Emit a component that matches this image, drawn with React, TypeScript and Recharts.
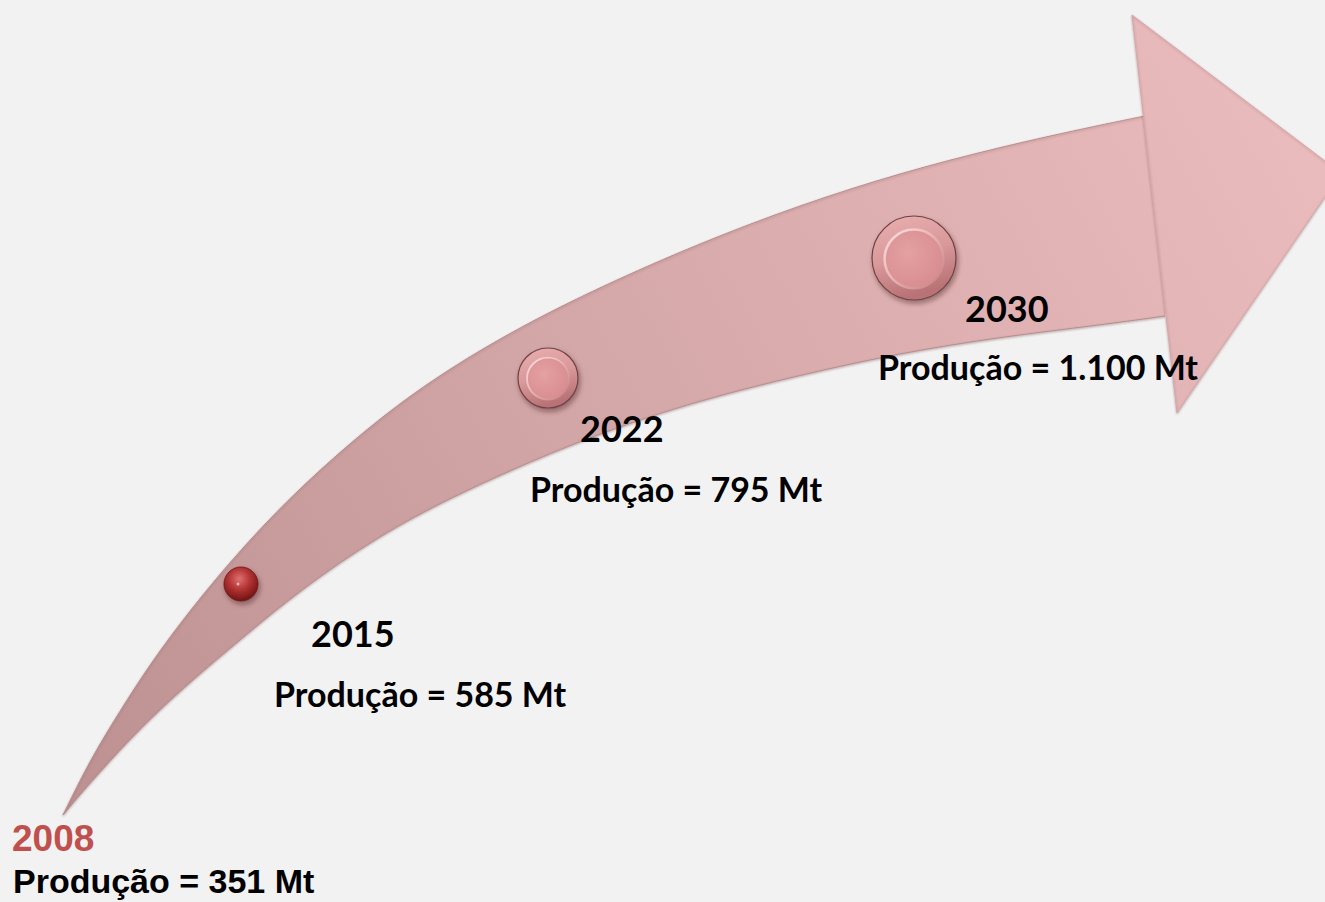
import { ComposedChart, Area, Scatter, XAxis, YAxis } from 'recharts';

// timeline points
const years = ['2008', '2015', '2022', '2030'];
const production = [351, 585, 795, 1100];
const markerX = [63, 241, 548, 914];
const markerY = [813, 584, 378, 258];
const markerSize = [0, 17, 30, 42];

// arrow body (curved band) and head
const arrowX = [63, 90, 120, 150, 190, 240, 300, 380, 450, 520, 600, 700, 800, 900, 1000, 1100, 1165];
const arrowTop = [815, 760, 711, 664, 610, 550, 487, 417, 368, 327, 287, 243, 205, 173, 147, 125, 112];
const arrowBottom = [815, 783, 750, 719, 682, 640, 590, 535, 498, 466, 433, 400, 375, 353, 337, 325, 316];
const headX = [1132, 1177, 1325, 1341];
const headTop = [15, 49, 161, 173];
const headBottom = [15, 413, 197, 173];

// label placement relative to each marker (start anchored)
const yearOffset = [[-51, 38], [70, 63], [32, 64], [51, 64]];
const prodOffset = [[-50, 80], [33, 123], [-18, 124], [-36, 122]];

const W = 1325;
const H = 902;

const bodyData = arrowX.map((x, i) => ({ x, y: [arrowTop[i], arrowBottom[i]] }));
const headData = headX.map((x, i) => ({ x, y: [headTop[i], headBottom[i]] }));
const points = years.map((year, i) => ({ x: markerX[i], y: markerY[i], r: markerSize[i], year, value: production[i], idx: i }));

const fmt = (n: number) => n.toString().replace(/\B(?=(\d{3})+(?!\d))/g, '.');

const Marker = (props: any) => {
    const { cx, cy, payload } = props;
    const i = payload.idx;
    const r = payload.r;
    const first = i === 0;
    const font = first ? '"Liberation Sans", Arial, sans-serif' : 'Lato, "Open Sans", sans-serif';
    return (
        <g>
            {r > 0 && i === 1 && (
                <g filter="url(#bubbleShadow)">
                    <circle cx={cx} cy={cy} r={r} fill="url(#redBall)" stroke="#6d1414" strokeWidth={0.8} />
                    <circle cx={cx - 3} cy={cy} r={1.5} fill="#f3b0b0" />
                </g>
            )}
            {r > 0 && i > 1 && (
                <g filter="url(#bubbleShadow)">
                    <circle cx={cx} cy={cy} r={r} fill="url(#pinkRim)" stroke="#6e4345" strokeWidth={1.2} />
                    <circle
                        cx={cx}
                        cy={cy + r * 0.02}
                        r={r * 0.7}
                        fill="url(#pinkInner)"
                        stroke="url(#pinkEdge)"
                        strokeWidth={Math.max(1.5, r * 0.06)}
                    />
                </g>
            )}
            <text
                x={cx + yearOffset[i][0]}
                y={cy + yearOffset[i][1]}
                fontFamily={font}
                fontWeight="bold"
                fontSize={first ? 37 : 36}
                fill={first ? '#c0504d' : '#000'}
            >
                {payload.year}
            </text>
            <text
                x={cx + prodOffset[i][0]}
                y={cy + prodOffset[i][1]}
                fontFamily={font}
                fontWeight="bold"
                fontSize={34}
                fill="#000"
            >
                {`Produção = ${fmt(payload.value)} Mt`}
            </text>
        </g>
    );
};

export default function App() {
    return (
        <div style={{ width: W, height: H, background: '#f2f2f2' }}>
            <style>{'body{margin:0;background:#f2f2f2}'}</style>
            <ComposedChart width={W} height={H} margin={{ top: 0, right: 0, bottom: 0, left: 0 }}>
                <defs>
                    <linearGradient id="arrowFill" gradientUnits="userSpaceOnUse" x1={60} y1={800} x2={1325} y2={100}>
                        <stop offset="0%" stopColor="#bd9192" />
                        <stop offset="45%" stopColor="#d3a6a7" />
                        <stop offset="100%" stopColor="#ebbcbd" />
                    </linearGradient>
                    <radialGradient id="redBall" cx="45%" cy="35%" r="70%">
                        <stop offset="0%" stopColor="#e07070" />
                        <stop offset="45%" stopColor="#b33434" />
                        <stop offset="100%" stopColor="#6a0e0e" />
                    </radialGradient>
                    <linearGradient id="pinkRim" x1="0" y1="0" x2="0.3" y2="1">
                        <stop offset="0%" stopColor="#eab0b1" />
                        <stop offset="55%" stopColor="#d9989a" />
                        <stop offset="100%" stopColor="#b97275" />
                    </linearGradient>
                    <radialGradient id="pinkInner" cx="40%" cy="40%" r="65%">
                        <stop offset="0%" stopColor="#e4a0a2" />
                        <stop offset="100%" stopColor="#d88d90" />
                    </radialGradient>
                    <linearGradient id="pinkEdge" x1="0" y1="0" x2="1" y2="1">
                        <stop offset="0%" stopColor="#fbe1e1" />
                        <stop offset="40%" stopColor="#ecbbbc" />
                        <stop offset="100%" stopColor="#c47d80" />
                    </linearGradient>
                    <filter id="bubbleShadow" x="-30%" y="-30%" width="170%" height="170%">
                        <feDropShadow dx={1.5} dy={3} stdDeviation={2.5} floodColor="#3a1a1a" floodOpacity={0.45} />
                    </filter>
                    <filter id="arrowShadow" x="-5%" y="-5%" width="110%" height="110%">
                        <feDropShadow dx={0} dy={1} stdDeviation={1} floodColor="#6b4445" floodOpacity={0.35} />
                    </filter>
                </defs>
                <XAxis type="number" dataKey="x" domain={[0, W]} allowDataOverflow hide />
                <YAxis type="number" dataKey="y" domain={[0, H]} reversed allowDataOverflow hide />
                <Area
                    data={bodyData}
                    dataKey="y"
                    type="basis"
                    stroke="#b98d8e"
                    strokeWidth={1}
                    fill="url(#arrowFill)"
                    fillOpacity={1}
                    dot={false}
                    activeDot={false}
                    filter="url(#arrowShadow)"
                    isAnimationActive={false}
                />
                <Area
                    data={headData}
                    dataKey="y"
                    type="linear"
                    stroke="#d7a7a8"
                    strokeWidth={1}
                    fill="url(#arrowFill)"
                    fillOpacity={1}
                    dot={false}
                    activeDot={false}
                    filter="url(#arrowShadow)"
                    isAnimationActive={false}
                />
                <Scatter data={points} dataKey="y" shape={<Marker />} isAnimationActive={false} />
            </ComposedChart>
        </div>
    );
}
